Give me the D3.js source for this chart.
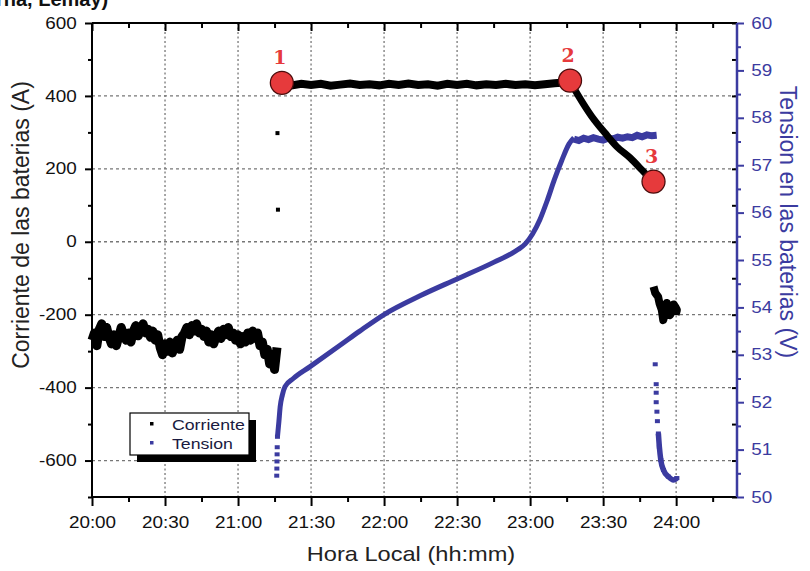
<!DOCTYPE html>
<html>
<head>
<meta charset="utf-8">
<script src="https://cdn.jsdelivr.net/npm/d3@7"></script>
<style>
  body { margin: 0; background: #fff; }
  svg text { font-family: "Liberation Sans", Arial, sans-serif; }
</style>
</head>
<body>
<div class="vizcontainer"></div>
<script>
// minutes after 20:00
const xTickMinutes = [0, 30, 60, 90, 120, 150, 180, 210, 240];
const xTickLabels = ["20:00", "20:30", "21:00", "21:30", "22:00", "22:30", "23:00", "23:30", "24:00"];
const leftTicks = [-600, -400, -200, 0, 200, 400, 600];
const rightTicks = [50, 51, 52, 53, 54, 55, 56, 57, 58, 59, 60];

// corriente (A): [minutes, amps]
const currentNoisy = [
  [0,-270],[1,-250],[2,-285],[3,-240],[4,-225],[5,-260],[6,-235],[7,-262],[8,-280],[9,-255],
  [10,-285],[11,-260],[12,-235],[13,-255],[14,-270],[15,-250],[16,-275],[17,-245],[18,-230],[19,-258],
  [20,-240],[21,-225],[22,-250],[23,-240],[24,-262],[25,-245],[26,-270],[27,-255],[28,-290],[29,-310],
  [30,-280],[31,-300],[32,-275],[33,-305],[34,-285],[35,-270],[36,-295],[37,-260],[38,-250],[39,-235],
  [40,-255],[41,-230],[42,-245],[43,-225],[44,-250],[45,-240],[46,-260],[47,-245],[48,-275],[49,-255],
  [50,-280],[51,-260],[52,-245],[53,-265],[54,-240],[55,-255],[56,-235],[57,-260],[58,-250],[59,-270],
  [60,-255],[61,-280],[62,-260],[63,-275],[64,-250],[65,-270],[66,-245],[67,-265],[68,-250],[69,-285],
  [70,-275],[71,-310],[72,-295],[73,-335],[74,-310],[75,-350],[76,-290]
];
const currentSpikes = [[76.2, 298], [76.4, 88]];
const currentPlateau = [
  [78,432],[82,429],[86,433],[90,430],[94,433],[98,428],[102,431],[106,434],[110,430],[114,432],
  [118,429],[122,433],[126,430],[130,434],[134,430],[138,432],[142,428],[146,433],[150,430],[154,433],
  [158,429],[162,432],[166,430],[170,433],[174,430],[178,432],[182,429],[186,432],[190,435],[194,437],[196.4,440]
];
const currentDecline = [
  [196.4,440],[199.7,402],[205.4,343],[210.8,298],[215.6,261],[221.1,230],[225.9,197],[230.5,164]
];
const currentTail = [
  [230.7,-123],[231.4,-140],[232.6,-151],[233.2,-170],[234.1,-187],[234.7,-215],[235.4,-195],
  [236.2,-168],[236.8,-185],[237.5,-201],[238.3,-190],[239.0,-172],[239.6,-178],[240.3,-187],[239.8,-200]
];

// tension (V): [minutes, volts]
const tensionRise = [
  [75.9,50.45],[75.95,50.6],[76.0,50.75],[76.05,50.9],[76.1,51.05],[76.2,51.27],[76.8,51.6],[77.3,51.9],
  [78.2,52.15],[79.3,52.33],[82.7,52.5],[89.6,52.75],[101.9,53.2],[110,53.5],[120,53.85],[135,54.25],
  [150,54.6],[165,54.95],[175,55.22],[178,55.34],[181,55.55],[184,55.85],[187,56.25],[190,56.7],
  [193,57.1],[196,57.45],[198,57.58]
];
const tensionFlat = [
  [198,57.55],[200,57.52],[202,57.57],[204,57.54],[206,57.58],[208,57.55],[210,57.53],[212,57.57],[214,57.55],
  [216,57.59],[218,57.57],[220,57.6],[222,57.58],[224,57.63],[226,57.6],[228,57.64],[230,57.62],[232,57.63]
];
const tensionTail = [
  [231.4,52.8],[231.8,52.38],[231.8,52.2],[231.8,52.0],[232.1,51.8],[232.3,51.6],[232.7,51.34],
  [233.1,51.06],[233.7,50.78],[234.8,50.57],[236.8,50.43],[238.9,50.36],[240.3,50.4]
];

const markerLabels = ["1", "2", "3"];
const markerTimes = [78, 196.4, 230.7];
const markerValues = [436, 442, 165];

const legendNames = ["Corriente", "Tension"];

const W = 810, H = 571;
const plot = { left: 92, right: 737, top: 23, bottom: 497 };
const blue = "#3b3ba0";
const stretch = 1.18; // the source picture is a little wider than tall

const svg = d3.select(".vizcontainer").append("svg")
  .attr("width", W).attr("height", H);

const x = d3.scaleLinear().domain([0, 265]).range([plot.left, plot.right]);
const yL = d3.scaleLinear().domain([-700, 600]).range([plot.bottom, plot.top]);
const yR = d3.scaleLinear().domain([50, 60]).range([plot.bottom, plot.top]);

// cut caption text at the very top
svg.append("text").attr("x", -4).attr("y", 6)
  .style("font-weight", "bold").style("font-size", "20px").attr("fill", "#111")
  .text("rna, Lemay)");

// grid
const grid = svg.append("g");
grid.selectAll(".hg").data(leftTicks.filter(d => d < 600)).enter().append("line")
  .attr("x1", plot.left).attr("x2", plot.right)
  .attr("y1", d => yL(d)).attr("y2", d => yL(d))
  .attr("stroke", "#777").attr("stroke-width", 1.3).attr("stroke-dasharray", "3,3");
grid.selectAll(".vg").data(xTickMinutes.filter(d => d > 0)).enter().append("line")
  .attr("y1", plot.top).attr("y2", plot.bottom)
  .attr("x1", d => x(d)).attr("x2", d => x(d))
  .attr("stroke", "#777").attr("stroke-width", 1.3).attr("stroke-dasharray", "2,2.5");

// data: tension
const lineT = d3.line().curve(d3.curveMonotoneX).x(d => x(d[0])).y(d => yR(d[1]));
svg.append("path").datum(tensionRise.slice(5)).attr("d", lineT)
  .attr("fill", "none").attr("stroke", blue).attr("stroke-width", 5);
svg.append("path").datum(tensionFlat).attr("d", d3.line().x(d => x(d[0])).y(d => yR(d[1])))
  .attr("fill", "none").attr("stroke", blue).attr("stroke-width", 7);
svg.append("path").datum(tensionTail.slice(6)).attr("d", lineT)
  .attr("fill", "none").attr("stroke", blue).attr("stroke-width", 5.5);
svg.selectAll(".tp").data(tensionRise.slice(0, 6).concat(tensionTail)).enter().append("rect")
  .attr("x", d => x(d[0]) - 2.5).attr("y", d => yR(d[1]) - 2)
  .attr("width", 5).attr("height", 4).attr("fill", blue);

// data: corriente
const lineC = d3.line().x(d => x(d[0])).y(d => yL(d[1]));
svg.append("path").datum(currentNoisy).attr("d", lineC)
  .attr("fill", "none").attr("stroke", "#000").attr("stroke-width", 9).attr("stroke-linejoin", "round");
svg.append("path").datum(currentPlateau).attr("d", lineC)
  .attr("fill", "none").attr("stroke", "#000").attr("stroke-width", 8);
svg.append("path").datum(currentDecline).attr("d", d3.line().curve(d3.curveMonotoneX).x(d => x(d[0])).y(d => yL(d[1])))
  .attr("fill", "none").attr("stroke", "#000").attr("stroke-width", 7);
svg.append("path").datum(currentTail).attr("d", lineC)
  .attr("fill", "none").attr("stroke", "#000").attr("stroke-width", 8).attr("stroke-linejoin", "round");
svg.selectAll(".cs").data(currentSpikes).enter().append("rect")
  .attr("x", d => x(d[0]) - 2).attr("y", d => yL(d[1]) - 2)
  .attr("width", 4).attr("height", 4).attr("fill", "#000");

// axes
function styleAxis(g, color) {
  g.select(".domain").remove();
  g.selectAll("line").attr("stroke", color).attr("stroke-width", 2);
  g.selectAll("text").attr("fill", color).style("font-size", "16px");
}

const bottom = svg.append("g").attr("transform", `translate(0,${plot.bottom})`)
  .call(d3.axisBottom(x).tickValues(xTickMinutes).tickSize(9).tickPadding(0)
    .tickFormat((d, i) => xTickLabels[i]));
styleAxis(bottom, "#000");
bottom.selectAll("text").attr("dy", null).attr("y", 31)
  .attr("transform", `scale(${stretch},1)`).attr("fill", "#111");
svg.append("g").attr("transform", `translate(0,${plot.bottom})`)
  .call(d3.axisBottom(x).tickValues(xTickMinutes.map(d => d + 15)).tickSize(5).tickFormat(""))
  .call(g => styleAxis(g, "#000"));

svg.append("g").attr("transform", `translate(0,${plot.top})`)
  .call(d3.axisBottom(x).tickValues(xTickMinutes).tickSize(8).tickFormat(""))
  .call(g => styleAxis(g, "#000"));
svg.append("g").attr("transform", `translate(0,${plot.top})`)
  .call(d3.axisBottom(x).tickValues(xTickMinutes.map(d => d + 15)).tickSize(5).tickFormat(""))
  .call(g => styleAxis(g, "#000"));

const left = svg.append("g").attr("transform", `translate(${plot.left},0)`)
  .call(d3.axisLeft(yL).tickValues(leftTicks).tickSize(7).tickPadding(6).tickFormat(d => String(d)));
styleAxis(left, "#000");
left.selectAll("text").attr("transform", `scale(${stretch},1)`).attr("fill", "#111");
svg.append("g").attr("transform", `translate(${plot.left},0)`)
  .call(d3.axisLeft(yL).tickValues(leftTicks.map(d => d - 100)).tickSize(4).tickFormat(""))
  .call(g => styleAxis(g, "#000"));
svg.append("g").attr("transform", `translate(${plot.right},0)`)
  .call(d3.axisLeft(yL).tickValues(leftTicks.concat(leftTicks.map(d => d - 100))).tickSize(5).tickFormat(""))
  .call(g => styleAxis(g, "#000"));

const right = svg.append("g").attr("transform", `translate(${plot.right},0)`)
  .call(d3.axisRight(yR).tickValues(rightTicks).tickSize(7).tickPadding(5));
styleAxis(right, blue);
right.selectAll("text").attr("transform", `scale(${stretch},1)`);
svg.append("g").attr("transform", `translate(${plot.right},0)`)
  .call(d3.axisRight(yR).tickValues(rightTicks.slice(1).map(d => d - 0.5)).tickSize(4).tickFormat(""))
  .call(g => styleAxis(g, blue));

// axis lines
svg.append("line").attr("x1", plot.left).attr("x2", plot.right).attr("y1", plot.top).attr("y2", plot.top)
  .attr("stroke", "#000").attr("stroke-width", 2);
svg.append("line").attr("x1", plot.left).attr("x2", plot.right).attr("y1", plot.bottom).attr("y2", plot.bottom)
  .attr("stroke", "#000").attr("stroke-width", 2);
svg.append("line").attr("x1", plot.left).attr("x2", plot.left).attr("y1", plot.top).attr("y2", plot.bottom)
  .attr("stroke", "#000").attr("stroke-width", 2);
svg.append("line").attr("x1", plot.right).attr("x2", plot.right).attr("y1", plot.top).attr("y2", plot.bottom)
  .attr("stroke", blue).attr("stroke-width", 2.5);

// axis titles
svg.append("text").attr("text-anchor", "middle")
  .attr("transform", `translate(29,225) rotate(-90)`)
  .style("font-size", "23px").attr("fill", "#222")
  .text("Corriente de las baterias (A)");
svg.append("text").attr("text-anchor", "middle")
  .attr("transform", `translate(780,222) rotate(90)`)
  .style("font-size", "23px").attr("fill", blue)
  .text("Tension en las baterias (V)");
svg.append("text").attr("text-anchor", "middle")
  .attr("transform", `translate(411,561) scale(${stretch},1)`)
  .style("font-size", "20px").attr("fill", "#222")
  .text("Hora Local (hh:mm)");

// legend
const legend = svg.append("g").attr("id", "legend");
legend.append("rect").attr("x", 137).attr("y", 420).attr("width", 119).attr("height", 42).attr("fill", "#000");
legend.append("rect").attr("x", 130).attr("y", 413).attr("width", 119).attr("height", 42)
  .attr("fill", "#fff").attr("stroke", "#000").attr("stroke-width", 1.2);
legend.selectAll(".ld").data(legendNames).enter().append("rect")
  .attr("x", 150).attr("y", (d, i) => 422 + 19 * i)
  .attr("width", 3.5).attr("height", 3.5)
  .attr("fill", (d, i) => i === 0 ? "#000" : blue);
legend.selectAll(".lt").data(legendNames).enter().append("text")
  .attr("transform", (d, i) => `translate(172,${430 + 19 * i}) scale(${stretch},1)`)
  .style("font-size", "15px").attr("fill", "#1a1a40")
  .text(d => d);

// numbered markers
const marks = svg.append("g");
marks.selectAll("circle").data(markerLabels).enter().append("circle")
  .attr("cx", (d, i) => x(markerTimes[i])).attr("cy", (d, i) => yL(markerValues[i]))
  .attr("r", 11.5).attr("fill", "#e63a3c").attr("stroke", "#4a0c0c").attr("stroke-width", 1.3);
marks.selectAll("text").data(markerLabels).enter().append("text")
  .attr("x", (d, i) => x(markerTimes[i]) - 2).attr("y", (d, i) => yL(markerValues[i]) - 19)
  .attr("text-anchor", "middle")
  .style("font-family", "'DejaVu Serif', serif").style("font-weight", "bold").style("font-size", "19px")
  .attr("fill", "#e63a3c")
  .text(d => d);
</script>
</body>
</html>
